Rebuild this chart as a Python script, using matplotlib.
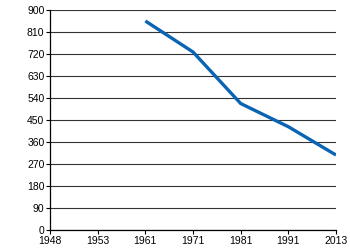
import numpy as np
import matplotlib.pyplot as plt

# categorias del eje x (espaciado uniforme)
years = ['1948', '1953', '1961', '1971', '1981', '1991', '2013']
# valores de la serie, empieza en 1961
line_years = ['1961', '1971', '1981', '1991', '2013']
values = [856, 729, 518, 423, 307]

y_ticks = list(range(0, 901, 90))

plt.rcParams['font.family'] = ['Liberation Sans', 'DejaVu Sans']

fig = plt.figure(figsize=(3.5, 2.5), dpi=100)
ax = fig.add_axes([0.143, 0.08, 0.817, 0.879])

xpos = [years.index(y) for y in line_years]
ax.plot(xpos, values, color='#0a64b4', linewidth=2.4, solid_capstyle='butt', zorder=3)

ax.set_xlim(0, len(years) - 1)
ax.set_ylim(0, 900)
ax.set_xticks(range(len(years)))
ax.set_xticklabels(years)
ax.set_yticks(y_ticks)
ax.grid(axis='y', color='#333333', linewidth=0.8)
ax.set_axisbelow(True)

for s in ['top', 'right']:
    ax.spines[s].set_visible(False)
for s in ['left', 'bottom']:
    ax.spines[s].set_color('black')
    ax.spines[s].set_linewidth(0.9)

ax.tick_params(axis='both', labelsize=7.5, length=3, width=0.8, pad=1)

fig.savefig('out.png', dpi=100)
